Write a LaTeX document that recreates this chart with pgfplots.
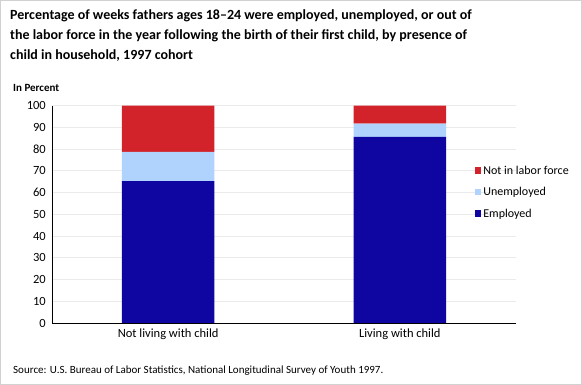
\documentclass[border=0pt]{standalone}
\usepackage{pgfplots}
\pgfplotsset{compat=1.18}
\usepackage{fontspec}
\setmainfont{Carlito}
\definecolor{emp}{HTML}{0F05A0}
\definecolor{unemp}{HTML}{B0D3FD}
\definecolor{nilf}{HTML}{D3232A}
\begin{document}
\begin{tikzpicture}
\path[use as bounding box] (0pt,0pt) rectangle (582pt,385pt);
\draw[black!18] (0.5pt,0.5pt) rectangle (581.5pt,384.5pt);
\node[anchor=north west, align=left, font=\bfseries\fontsize{14}{20}\selectfont, inner sep=0pt] at (10pt,376pt) {Percentage of weeks fathers ages 18--24 were employed, unemployed, or out of\\the labor force in the year following the birth of their first child, by presence of\\child in household, 1997 cohort};
\node[anchor=base west, font=\bfseries\fontsize{11}{13}\selectfont, inner sep=0pt] at (13pt,293pt) {In Percent};
\node[anchor=base west, font=\fontsize{11}{13}\selectfont, inner sep=0pt] at (13pt,11pt) {Source: U.S. Bureau of Labor Statistics, National Longitudinal Survey of Youth 1997.};
\begin{axis}[
  at={(52.3pt,62pt)}, anchor=south west,
  scale only axis, width=463.4pt, height=217.3pt,
  ybar stacked, bar width=0.4,
  xmin=-0.5, xmax=1.5, ymin=0, ymax=100,
  xtick={0,1}, xticklabels={Not living with child, Living with child},
  ytick={0,10,...,100},
  axis x line=bottom, axis y line=left,
  axis line style={black, -},
  major tick length=0pt,
  ymajorgrids, grid style={black!8, line width=0.8pt},
  tick label style={font=\fontsize{12.5}{14}\selectfont},
  /pgf/number format/assume math mode=true,
  yticklabel style={xshift=-3pt},
  xticklabel style={yshift=-2pt},
  legend style={draw=none, fill=none, at={(0.905,0.742)}, anchor=north west, font=\fontsize{12}{14}\selectfont, row sep=7.7pt, cells={anchor=west}},
  reverse legend,
  legend image code/.code={\fill[#1] (0pt,-3pt) rectangle (6.5pt,3.5pt);},
]
\addplot[fill=emp, draw=none] coordinates {(0,65.3) (1,85.6)};
\addlegendentry{Employed}
\addplot[fill=unemp, draw=none] coordinates {(0,13.5) (1,6.1)};
\addlegendentry{Unemployed}
\addplot[fill=nilf, draw=none] coordinates {(0,21.2) (1,8.3)};
\addlegendentry{Not in labor force}
\end{axis}
\end{tikzpicture}
\end{document}
